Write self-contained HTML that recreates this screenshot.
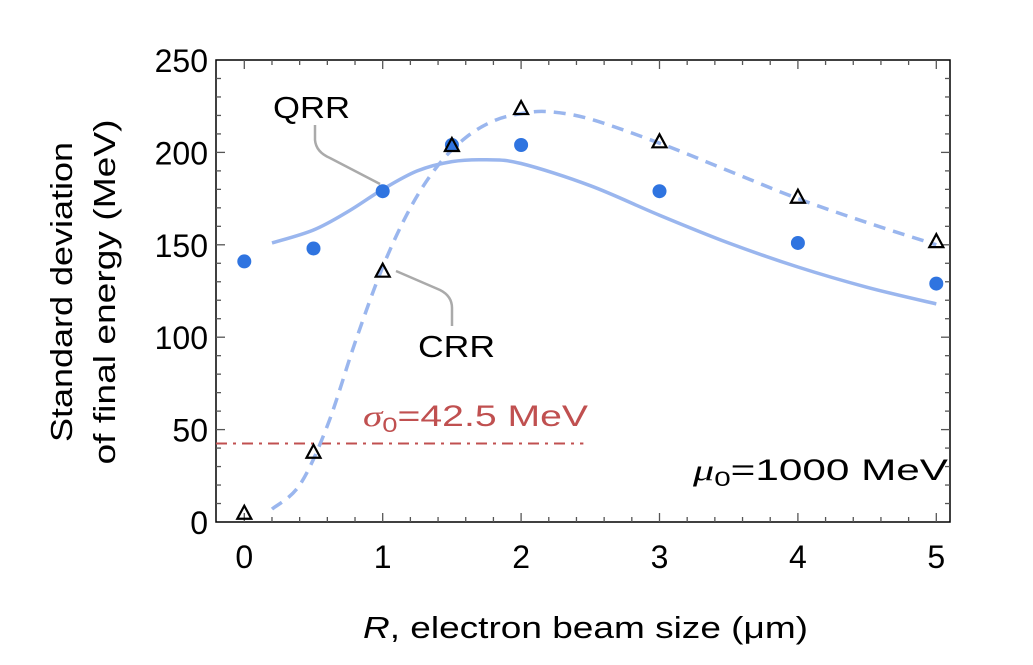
<!DOCTYPE html>
<html><head><meta charset="utf-8"><style>
body{margin:0;background:#fff;}
svg{display:block;font-family:"Liberation Sans","DejaVu Sans",sans-serif;}
</style></head><body>
<svg id="chart" width="1033" height="665" xmlns="http://www.w3.org/2000/svg"></svg>
<script>
const xTicks=[0,1,2,3,4,5];
const yTicks=[0,50,100,150,200,250];
const qrrX=[0,0.5,1,1.5,2,3,4,5];
const qrrY=[141,148,179,204,204,179,151,129];
const crrX=[0,0.5,1,1.5,2,3,4,5];
const crrY=[5,38,136,204,224,206,176,152];
const fitQX=[0.2,0.5,0.75,1,1.25,1.5,1.75,2,2.5,3,3.5,4,4.5,5];
const fitQY=[151,158,168,180,190,195,196,194,182,166,151,138,127,118];
const fitCX=[0.2,0.4,0.6,0.8,1,1.2,1.4,1.6,1.8,2,2.2,2.5,3,3.5,4,4.5,5];
const fitCY=[7,20,52,97,138,170,193,208,217,221,222,218,205,190,175,162,150];
const sigma0=42.5;
const L=216,R=950,T=60,B=522;
const X=v=>244.3+v*138.4, Y=v=>522-v*1.848;
const svg=document.getElementById('chart');
const NS='http://www.w3.org/2000/svg';
function el(t,a,p){const e=document.createElementNS(NS,t);for(const k in a)e.setAttribute(k,a[k]);(p||svg).appendChild(e);return e;}
function smooth(xs,ys){const P=xs.map((x,i)=>[X(x),Y(ys[i])]);let d='M'+P[0][0].toFixed(1)+','+P[0][1].toFixed(1);
for(let i=0;i<P.length-1;i++){const p0=P[i-1]||P[i],p1=P[i],p2=P[i+1],p3=P[i+2]||P[i+1];
const c1=[p1[0]+(p2[0]-p0[0])/6,p1[1]+(p2[1]-p0[1])/6],c2=[p2[0]-(p3[0]-p1[0])/6,p2[1]-(p3[1]-p1[1])/6];
d+=` C${c1[0].toFixed(1)},${c1[1].toFixed(1)} ${c2[0].toFixed(1)},${c2[1].toFixed(1)} ${p2[0].toFixed(1)},${p2[1].toFixed(1)}`;}return d;}
const fr=el('rect',{x:L,y:T,width:R-L,height:B-T,fill:'none',stroke:'#000','stroke-width':1.5});


for(let v=-0.2;v<=5.1;v+=0.2){const x=X(v);if(x<L+1||x>R-1)continue;const major=Math.abs(v-Math.round(v))<0.01;const len=major?9:5;
el('line',{x1:x,x2:x,y1:B,y2:B-len,stroke:'#555','stroke-width':1.3});el('line',{x1:x,x2:x,y1:T,y2:T+len,stroke:'#555','stroke-width':1.3});}
for(let v=10;v<250;v+=10){const y=Y(v);const len=v%50===0?9:5;
el('line',{x1:L,x2:L+len,y1:y,y2:y,stroke:'#555','stroke-width':1.3});el('line',{x1:R,x2:R-len,y1:y,y2:y,stroke:'#555','stroke-width':1.3});}
xTicks.forEach(v=>{const t=el('text',{x:X(v),y:568,'font-size':32,'text-anchor':'middle'});t.textContent=v;

});
yTicks.forEach(v=>{const t=el('text',{x:208,y:Y(v)+12,'font-size':32,'text-anchor':'end'});t.textContent=v;

});
const sl=el('line',{x1:L,x2:X(2.45),y1:Y(sigma0),y2:Y(sigma0),stroke:'#c05050','stroke-width':2,'stroke-dasharray':'11,6,3,6'});


const st=el('text',{x:363,y:426,'font-size':30,fill:'#c05050',textLength:225,lengthAdjust:'spacingAndGlyphs'});st.innerHTML='<tspan font-style="italic" font-family="Liberation Serif">σ</tspan><tspan font-size="21" dy="6">0</tspan><tspan dy="-6">=42.5 MeV</tspan>';


const fq=el('path',{d:smooth(fitQX,fitQY),fill:'none',stroke:'#9ab6ee','stroke-width':3.5});


const fc=el('path',{d:smooth(fitCX,fitCY),fill:'none',stroke:'#9ab6ee','stroke-width':3.5,'stroke-dasharray':'12,8'});


el('path',{d:'M315,125 L315,140 Q316,152 330,158 L380,184',fill:'none',stroke:'#aaa','stroke-width':2.5});
el('path',{d:'M396,271 L440,290 Q452,296 452,308 L452,326',fill:'none',stroke:'#aaa','stroke-width':2.5});
const q=el('text',{x:273,y:118,'font-size':31,textLength:77,lengthAdjust:'spacingAndGlyphs'});q.textContent='QRR';


const c=el('text',{x:418,y:357,'font-size':31,textLength:77,lengthAdjust:'spacingAndGlyphs'});c.textContent='CRR';


qrrX.forEach((x,i)=>{const p=el('circle',{cx:X(x),cy:Y(qrrY[i]),r:7,fill:'#2f74e0'});

});
crrX.forEach((x,i)=>{const cx=X(x),cy=Y(crrY[i]);const p=el('polygon',{points:`${cx},${cy-7} ${cx-7},${cy+6} ${cx+7},${cy+6}`,fill:'none',stroke:'#000','stroke-width':2.2});

});
const mu=el('text',{x:693,y:480,'font-size':30,textLength:255,lengthAdjust:'spacingAndGlyphs'});mu.innerHTML='<tspan font-style="italic" font-family="Liberation Serif">μ</tspan><tspan font-size="21" dy="6">0</tspan><tspan dy="-6">=1000 MeV</tspan>';


const xt=el('text',{x:363,y:638,'font-size':31,textLength:445,lengthAdjust:'spacingAndGlyphs'});xt.innerHTML='<tspan font-style="italic">R</tspan>, electron beam size (μm)';


const yt=el('text',{transform:'translate(72,292) rotate(-90)','font-size':31,'text-anchor':'middle'});
yt.innerHTML='<tspan x="0" dy="0" textLength="300" lengthAdjust="spacingAndGlyphs">Standard deviation</tspan><tspan x="0" dy="43" textLength="345" lengthAdjust="spacingAndGlyphs">of final energy (MeV)</tspan>';


</script>
</body></html>
